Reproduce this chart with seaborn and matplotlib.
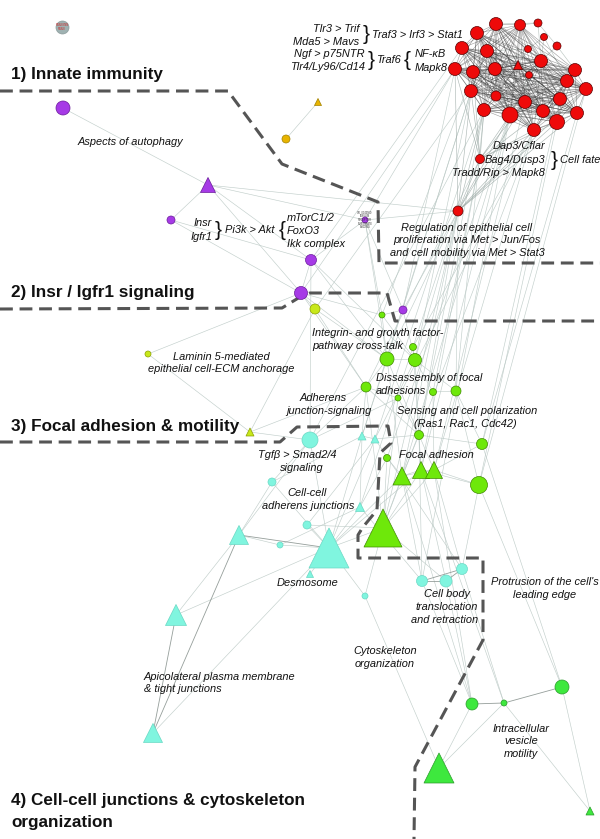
import matplotlib
matplotlib.use("Agg")
import matplotlib.pyplot as plt
from matplotlib.collections import LineCollection
from itertools import combinations
import pandas as pd
import seaborn as sns

sns.set_style("white")
plt.rcParams['font.family'] = ['Liberation Sans', 'DejaVu Sans']

# ---- network nodes (layout position, node diameter / triangle width, shape, module)
node_names = ['G0',
              'R1', 'R2', 'R3', 'R4', 'R5', 'R6', 'R7', 'R8', 'R9', 'R10', 'R11', 'R12', 'R13', 'R14',
              'R15', 'R16', 'R17', 'R18', 'R19', 'R20', 'R21', 'R22', 'R23', 'R24', 'R25', 'R26', 'R27',
              'R28', 'Rfate', 'Rreg',
              'P1', 'P2', 'P3', 'P4', 'P5', 'P6', 'P7',
              'Y1', 'Y2',
              'L1', 'L2', 'L3',
              'F1', 'F2', 'F3', 'F4', 'F5', 'F6', 'F7', 'F8', 'F9', 'F10', 'F11', 'F12', 'F13', 'F14',
              'F15', 'F16',
              'V1', 'V2', 'V3', 'V4', 'V5',
              'C1', 'C2', 'C3', 'C4', 'C5', 'C6', 'C7', 'C8', 'C9', 'C10', 'C11', 'C12', 'C13', 'C14',
              'C15', 'C16']
node_x = [62,
          496, 520, 538, 477, 544, 557, 462, 487, 528, 541, 518, 455, 473, 495,
          529, 575, 567, 586, 471, 496, 525, 560, 484, 510, 543, 577, 557,
          534, 480, 458,
          63, 208, 171, 365, 311, 301, 403,
          318, 286,
          315, 148, 250,
          382, 413, 387, 415, 366, 433, 456, 398, 419, 482, 387, 402, 421, 434,
          479, 383,
          472, 504, 562, 439, 590,
          310, 362, 375, 272, 360, 307, 239, 280, 329, 310, 365, 176, 153, 422,
          446, 462]
node_y = [27,
          24, 25, 23, 33, 37, 46, 48, 51, 49, 61, 65, 69, 72, 69,
          75, 70, 81, 89, 91, 96, 102, 99, 110, 115, 111, 113, 122,
          130, 159, 211,
          108, 185, 220, 220, 260, 293, 310,
          102, 139,
          309, 354, 432,
          315, 347, 359, 360, 387, 392, 391, 398, 435, 444, 458, 476, 470, 470,
          485, 528,
          704, 703, 687, 768, 811,
          440, 436, 439, 482, 507, 525, 535, 545, 548, 574, 596, 615, 733, 581,
          581, 569]
node_size = [13,
             13, 11, 8, 13, 7, 8, 13, 13, 7, 13, 9, 13, 13, 13,
             7, 13, 13, 13, 13, 10, 13, 13, 13, 16, 13, 13, 15,
             13, 9, 10,
             14, 15, 8, 6, 11, 13, 8,
             7, 8,
             10, 6, 8,
             6, 7, 14, 13, 10, 7, 10, 6, 9, 11, 7, 18, 17, 17,
             17, 38,
             12, 6, 14, 30, 8,
             16, 8, 8, 8, 9, 8, 19, 6, 40, 7, 6, 21, 19, 11,
             12, 11]
node_shape = ['circle'] * 11 + ['triangle'] + ['circle'] * 19 + \
             ['circle', 'triangle', 'circle', 'circle', 'circle', 'circle', 'circle'] + \
             ['triangle', 'circle'] + ['circle', 'circle', 'triangle'] + \
             ['circle'] * 11 + ['triangle'] * 3 + ['circle', 'triangle'] + \
             ['circle', 'circle', 'circle', 'triangle', 'triangle'] + \
             ['circle', 'triangle', 'triangle', 'circle', 'triangle', 'circle', 'triangle', 'circle',
              'triangle', 'triangle', 'circle', 'triangle', 'triangle', 'circle', 'circle', 'circle']
node_module = ['grey'] + ['red'] * 30 + ['purple'] * 7 + ['gold'] * 2 + ['lime'] * 3 + \
              ['green'] * 16 + ['vgreen'] * 5 + ['cyan'] * 16

module_colors = {'grey': '#9fb2b2', 'red': '#ee0a0a', 'purple': '#a63ae6', 'gold': '#e8b400',
                 'lime': '#c8e81a', 'green': '#6ee80a', 'vgreen': '#3ee83e', 'cyan': '#80f5df'}
module_edges = {'grey': '#8a9a9a', 'red': '#5a0000', 'purple': '#6a1a9a', 'gold': '#a08000',
                'lime': '#8aa000', 'green': '#3f8a00', 'vgreen': '#2a9a2a', 'cyan': '#6ad8c4'}

# ---- edges
red_core = ['R1', 'R2', 'R4', 'R7', 'R8', 'R10', 'R11', 'R12', 'R13', 'R14', 'R16', 'R17', 'R18',
            'R19', 'R20', 'R21', 'R22', 'R23', 'R24', 'R25', 'R26', 'R27', 'R28']
red_light = [('R3', 'R2'), ('R3', 'R1'), ('R5', 'R9'), ('R6', 'R16'), ('R9', 'R14'), ('R15', 'R10'),
             ('R5', 'R10'), ('R6', 'R10'), ('R3', 'R10'), ('R15', 'R21'), ('R9', 'R8'), ('R15', 'R24'),
             ('R5', 'R17'), ('R9', 'R11'), ('R3', 'R6'), ('R15', 'R22')]
red_stem = [('Rfate', 'R24'), ('Rfate', 'R28'), ('Rfate', 'R21'), ('Rfate', 'R23'), ('Rfate', 'R19'),
            ('Rfate', 'R27'), ('Rfate', 'R13'), ('Rfate', 'R12'), ('Rfate', 'R25'),
            ('Rreg', 'Rfate'), ('Rreg', 'R28'), ('Rreg', 'R24'), ('Rreg', 'R23'), ('Rreg', 'R27'),
            ('Rreg', 'R26'), ('Rreg', 'R19'), ('Rreg', 'R21'), ('Rreg', 'R12'), ('Rreg', 'R18')]
light_edges = [
    ('R19', 'F3'), ('R19', 'F4'), ('R23', 'F7'), ('R23', 'F9'), ('R24', 'F12'), ('R24', 'F13'),
    ('R28', 'F16'), ('R28', 'F2'), ('R12', 'P6'), ('R12', 'P7'), ('R13', 'F1'), ('R19', 'L1'),
    ('R23', 'C1'), ('R27', 'F15'), ('R26', 'F10'), ('R28', 'F14'), ('Rreg', 'F3'), ('Rreg', 'F4'),
    ('Rreg', 'F9'), ('Rreg', 'F12'), ('Rreg', 'F16'), ('Rreg', 'F7'), ('Rfate', 'F5'), ('Rfate', 'F6'),
    ('Rfate', 'F13'), ('R21', 'F14'), ('R24', 'C14'), ('R18', 'F15'), ('R22', 'F10'), ('R7', 'P5'),
    ('R12', 'P4'), ('R19', 'C2'), ('R23', 'C3'), ('Rreg', 'C5'), ('R24', 'F11'), ('R28', 'F8'),
    ('P1', 'P2'), ('P2', 'P3'), ('P2', 'P4'), ('P2', 'Rreg'), ('P2', 'P5'), ('P2', 'P6'), ('P3', 'P6'),
    ('P3', 'P5'), ('P4', 'Rreg'), ('P4', 'P5'), ('P4', 'F3'), ('P5', 'P6'), ('P5', 'F4'), ('P5', 'F3'),
    ('P5', 'C1'), ('P6', 'L1'), ('P6', 'F1'), ('P6', 'L2'), ('P6', 'F3'), ('P6', 'F5'), ('P7', 'F1'),
    ('P7', 'F4'), ('P7', 'Rreg'), ('P4', 'F1'), ('P4', 'P7'),
    ('Y1', 'Y2'),
    ('L1', 'F5'), ('L1', 'L3'), ('L2', 'L3'), ('L3', 'F5'), ('L3', 'C1'), ('L1', 'F3'),
    ('F1', 'F3'), ('F1', 'F4'), ('F2', 'F4'), ('F3', 'F4'), ('F3', 'F5'), ('F4', 'F6'), ('F4', 'F7'),
    ('F5', 'F8'), ('F6', 'F7'), ('F8', 'F9'), ('F4', 'F9'), ('F9', 'F12'), ('F9', 'F13'), ('F9', 'F14'),
    ('F12', 'F13'), ('F13', 'F14'), ('F12', 'F14'), ('F10', 'F14'), ('F15', 'F14'), ('F15', 'F13'),
    ('F10', 'F9'), ('F11', 'F12'), ('F12', 'F16'), ('F13', 'F16'), ('F14', 'F16'), ('F3', 'F12'),
    ('F5', 'F16'), ('F7', 'F10'), ('F2', 'F13'), ('F8', 'F16'), ('F11', 'F16'), ('F5', 'F9'),
    ('F3', 'F9'), ('F6', 'F14'), ('F7', 'F15'),
    ('F16', 'C9'), ('F12', 'C9'), ('F13', 'C9'), ('F11', 'C5'), ('F5', 'C1'), ('F3', 'C2'),
    ('F4', 'C3'), ('F9', 'C14'), ('F16', 'C15'), ('F14', 'C16'), ('F12', 'C14'), ('F13', 'C15'),
    ('F15', 'C16'), ('F14', 'V1'), ('F13', 'V2'), ('F12', 'V1'), ('F10', 'V3'), ('F15', 'V3'),
    ('C9', 'C11'), ('C9', 'C1'), ('C9', 'C2'), ('C9', 'C3'), ('C9', 'C4'), ('C9', 'C5'), ('C9', 'C6'),
    ('C9', 'C8'), ('C9', 'C10'), ('C7', 'C8'), ('C7', 'C12'), ('C12', 'C9'),
    ('C13', 'C9'), ('C7', 'C4'), ('C7', 'C1'), ('C4', 'C1'), ('C5', 'C2'), ('C6', 'C3'), ('C2', 'C3'),
    ('C11', 'V4'), ('V4', 'V1'), ('V4', 'V2'), ('V3', 'V5'), ('V2', 'V5'),
    ('V1', 'C15'), ('V1', 'C14'), ('V2', 'C16'), ('F16', 'C11'), ('C3', 'F9'), ('C2', 'F5'),
    ('C5', 'C14'), ('C3', 'C16'), ('C6', 'F16'), ('C8', 'C5'), ('C1', 'F8'), ('C4', 'C2')]
dark_edges = [('C7', 'C13'), ('C12', 'C13'), ('C14', 'C15'), ('C15', 'C16'), ('C14', 'C16'),
              ('V1', 'V2'), ('V2', 'V3'), ('C7', 'C9')]

# tiny term label that is legible in the picture
node_labels = {'P4': 'GO_0043560\nINSULIN\nRECEPTOR\nSUBSTRATE\nBINDING'}

nodes = pd.DataFrame({'name': node_names, 'x': node_x, 'y': node_y, 'size': node_size,
                      'shape': node_shape, 'module': node_module})
nodes['area'] = (nodes['size'] * 0.72) ** 2
pos = {n: (x, y) for n, x, y in zip(node_names, node_x, node_y)}

fig = plt.figure(figsize=(6, 8.39), dpi=100)
ax = fig.add_axes([0, 0, 1, 1])


def draw_edges(pairs, color, lw, alpha, z):
    segs = [[pos[a], pos[b]] for a, b in pairs]
    ax.add_collection(LineCollection(segs, colors=color, linewidths=lw, alpha=alpha, zorder=z))


draw_edges(light_edges, '#bccac6', 0.45, 0.9, 1)
draw_edges(red_light, '#b5c0bc', 0.45, 0.9, 1)
draw_edges(red_stem, '#9aa8a4', 0.45, 0.8, 1)
draw_edges(list(combinations(red_core, 2)), '#3a3a3a', 0.4, 0.5, 1.5)
draw_edges(dark_edges, '#8a9490', 0.6, 0.9, 1.5)

amin, amax = nodes['area'].min(), nodes['area'].max()
for mod, sub in nodes.groupby('module'):
    sns.scatterplot(data=sub, x='x', y='y', style='shape', size='area',
                    sizes=(amin, amax), size_norm=(amin, amax),
                    markers={'circle': 'o', 'triangle': '^'}, style_order=['circle', 'triangle'],
                    color=module_colors[mod], edgecolor=module_edges[mod], linewidth=0.5,
                    legend=False, ax=ax, zorder=3)

for n, lab in node_labels.items():
    ax.text(pos[n][0], pos[n][1], lab, fontsize=1.8, ha='center', va='center',
            linespacing=0.9, color='#333333', zorder=4)
ax.text(62, 27, 'NNNNNNN\nNNNN', fontsize=1.8, ha='center', va='center', color='#d02020', zorder=4)

# ---- module borders (dashed)
borders = [
    ([0, 228, 282, 378, 379, 600], [91, 91, 164, 202, 263, 263]),
    ([0, 282, 300, 310, 387, 395, 600], [309, 308, 297, 293, 293, 321, 321]),
    ([0, 280, 297, 388, 391, 380, 377, 363, 358, 358, 483, 483, 415, 414],
     [442, 442, 427, 426, 443, 453, 510, 527, 535, 558, 558, 640, 767, 839]),
]
for bx, by in borders:
    ax.plot(bx, by, color='#555555', lw=2.2, linestyle=(0, (4.2, 2.2)), zorder=2.5,
            solid_joinstyle='miter')

# ---- module titles
titles = ['1) Innate immunity', '2) Insr / Igfr1 signaling', '3) Focal adhesion & motility',
          '4) Cell-cell junctions & cytoskeleton', 'organization']
title_y = [75, 293, 427, 800, 822]
for t, ty in zip(titles, title_y):
    ax.text(11, ty, t, fontsize=12.3, fontweight='bold', ha='left', va='center',
            color='#111111', zorder=5)

# ---- italic annotations: (text, x, y, ha)
notes = [
    ('Tlr3 > Trif', 359, 29, 'right'), ('Mda5 > Mavs', 359, 42, 'right'),
    ('Traf3 > Irf3 > Stat1', 372, 35, 'left'),
    ('Ngf > p75NTR', 365, 54, 'right'), ('Tlr4/Ly96/Cd14', 365, 67, 'right'),
    ('Traf6', 376, 60, 'left'), ('NF-κB', 415, 54, 'left'), ('Mapk8', 415, 68, 'left'),
    ('Dap3/Cflar', 545, 146, 'right'), ('Bag4/Dusp3', 545, 160, 'right'),
    ('Tradd/Rip > Mapk8', 545, 173, 'right'), ('Cell fate', 560, 160, 'left'),
    ('Regulation of epithelial cell', 467, 228, 'center'),
    ('proliferation via Met > Jun/Fos', 467, 240, 'center'),
    ('and cell mobility via Met > Stat3', 467, 253, 'center'),
    ('Aspects of autophagy', 130, 142, 'center'),
    ('Insr', 212, 223, 'right'), ('Igfr1', 212, 237, 'right'), ('Pi3k > Akt', 225, 230, 'left'),
    ('mTorC1/2', 287, 218, 'left'), ('FoxO3', 287, 231, 'left'), ('Ikk complex', 287, 244, 'left'),
    ('Integrin- and growth factor-', 312, 333, 'left'), ('pathway cross-talk', 312, 346, 'left'),
    ('Laminin 5-mediated', 221, 357, 'center'), ('epithelial cell-ECM anchorage', 221, 369, 'center'),
    ('Dissassembly of focal', 376, 378, 'left'), ('adhesions', 376, 391, 'left'),
    ('Adherens', 323, 398, 'center'), ('junction-signaling', 329, 411, 'center'),
    ('Sensing and cell polarization', 397, 411, 'left'), ('(Ras1, Rac1, Cdc42)', 465, 424, 'center'),
    ('Focal adhesion', 399, 455, 'left'),
    ('Tgfβ > Smad2/4', 297, 455, 'center'), ('signaling', 302, 468, 'center'),
    ('Cell-cell', 307, 493, 'center'), ('adherens junctions', 308, 506, 'center'),
    ('Desmosome', 308, 583, 'center'),
    ('Apicolateral plasma membrane', 144, 677, 'left'), ('& tight junctions', 144, 689, 'left'),
    ('Cell body', 447, 594, 'center'), ('translocation', 447, 607, 'center'),
    ('and retraction', 445, 620, 'center'),
    ("Protrusion of the cell's", 545, 582, 'center'), ('leading edge', 545, 595, 'center'),
    ('Cytoskeleton', 385, 651, 'center'), ('organization', 385, 664, 'center'),
    ('Intracellular', 521, 729, 'center'), ('vesicle', 521, 741, 'center'),
    ('motility', 521, 754, 'center'),
]
for t, tx, ty, ha in notes:
    ax.text(tx, ty, t, fontsize=7.9, style='italic', ha=ha, va='center', color='#111111', zorder=5)

# curly braces grouping the pathway names
braces = [('}', 366, 35), ('}', 371, 60), ('{', 407, 61), ('}', 554, 160), ('}', 218, 230), ('{', 282, 231)]
for b, bx, by in braces:
    ax.text(bx, by, b, fontsize=15, ha='center', va='center', color='#111111', zorder=5)

ax.set_xlim(0, 600)
ax.set_ylim(839, 0)
ax.set_axis_off()
fig.savefig('out.png', dpi=100, facecolor='white')
